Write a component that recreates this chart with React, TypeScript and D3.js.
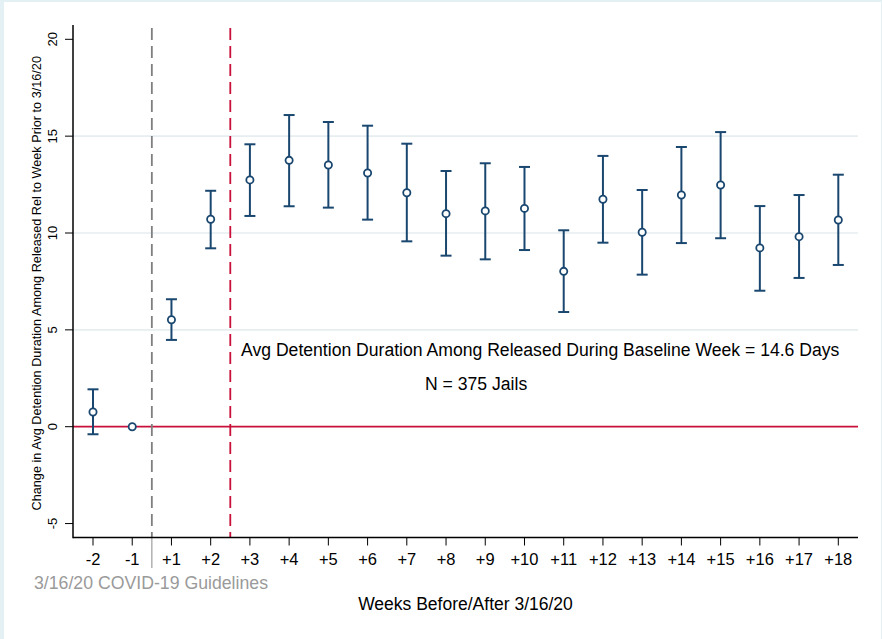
import React from "react";
import * as d3 from "d3";

const weeks = ["-2", "-1", "+1", "+2", "+3", "+4", "+5", "+6", "+7", "+8", "+9", "+10", "+11", "+12", "+13", "+14", "+15", "+16", "+17", "+18"];
const estimate = [0.76, 0, 5.52, 10.71, 12.74, 13.75, 13.51, 13.1, 12.08, 11.0, 11.14, 11.27, 8.02, 11.74, 10.04, 11.96, 12.48, 9.23, 9.81, 10.67];
const upper = [1.93, 0, 6.58, 12.18, 14.58, 16.09, 15.73, 15.54, 14.61, 13.2, 13.6, 13.41, 10.14, 13.98, 12.22, 14.44, 15.21, 11.39, 11.96, 13.01];
const lower = [-0.39, 0, 4.48, 9.21, 10.88, 11.38, 11.31, 10.69, 9.57, 8.83, 8.64, 9.12, 5.92, 9.5, 7.85, 9.48, 9.73, 7.02, 7.68, 8.35];
const yTicks = [-5, 0, 5, 10, 15, 20];
const gridTicks = [5, 10, 15];

const W = 882;
const H = 639;
const NAVY = "#1a476f";
const RED = "#c8103a";
const FONT = "'Liberation Sans', Arial, Helvetica, sans-serif";

export default function App() {
  const x = d3.scaleLinear().domain([0, weeks.length - 1]).range([93, 838.3]);
  const y = d3.scaleLinear().domain([0, 20]).range([426.7, 39.3]);
  const left = 73;
  const right = 858;
  const top = 25;
  const bottom = 537.5;
  const capHalf = 5.5;

  return (
    <svg width={W} height={H} style={{ position: "absolute", left: 0, top: 0, display: "block" }} fontFamily={FONT}>
      <rect x={0} y={0} width={W} height={H} fill="#e3f1f5" />
      <rect x={4} y={2} width={877} height={H - 2} fill="#ffffff" />
      {gridTicks.map((t) => (
        <line key={t} x1={left} x2={right} y1={y(t)} y2={y(t)} stroke="#e6eef0" strokeWidth={1.6} />
      ))}
      <line x1={left} x2={right} y1={y(0)} y2={y(0)} stroke={RED} strokeWidth={1.8} />
      <line x1={x(1.5)} x2={x(1.5)} y1={28} y2={bottom} stroke="#7f7f7f" strokeWidth={1.8} strokeDasharray="12,6" />
      <line x1={x(3.5)} x2={x(3.5)} y1={28} y2={bottom} stroke={RED} strokeWidth={1.8} strokeDasharray="12,6" />
      <line x1={x(1.5)} x2={x(1.5)} y1={bottom} y2={568} stroke="#a6a6a6" strokeWidth={1.3} />
      {weeks.map((w, i) => {
        const cx = x(i);
        const hasBar = upper[i] !== lower[i];
        return (
          <g key={w}>
            {hasBar && (
              <g stroke={NAVY} strokeWidth={2}>
                <line x1={cx} x2={cx} y1={y(upper[i])} y2={y(lower[i])} />
                <line x1={cx - capHalf} x2={cx + capHalf} y1={y(upper[i])} y2={y(upper[i])} />
                <line x1={cx - capHalf} x2={cx + capHalf} y1={y(lower[i])} y2={y(lower[i])} />
              </g>
            )}
            <circle cx={cx} cy={y(estimate[i])} r={3.6} fill="#ffffff" stroke={NAVY} strokeWidth={1.8} />
          </g>
        );
      })}
      <line x1={left} x2={left} y1={top} y2={bottom + 0.8} stroke="#000" strokeWidth={1.5} />
      <line x1={left} x2={right} y1={bottom} y2={bottom} stroke="#000" strokeWidth={1.5} />
      {yTicks.map((t) => (
        <g key={t}>
          <line x1={left - 8} x2={left} y1={y(t)} y2={y(t)} stroke="#000" strokeWidth={1} />
          <text transform={`translate(57,${y(t)}) rotate(-90)`} textAnchor="middle" fontSize={13} fill="#000">
            {t}
          </text>
        </g>
      ))}
      {weeks.map((w, i) => (
        <g key={w}>
          <line x1={x(i)} x2={x(i)} y1={bottom} y2={bottom + 8} stroke="#000" strokeWidth={1} />
          <text x={x(i)} y={565} textAnchor="middle" fontSize={16.5} fill="#000">
            {w}
          </text>
        </g>
      ))}
      <text transform={`translate(41,${(top + bottom) / 2 + 2}) rotate(-90)`} textAnchor="middle" fontSize={12.7} fill="#000">
        Change in Avg Detention Duration Among Released Rel to Week Prior to 3/16/20
      </text>
      <text x={465.5} y={610} textAnchor="middle" fontSize={17.5} fill="#000">
        Weeks Before/After 3/16/20
      </text>
      <text x={34} y={589} fontSize={17.7} fill="#9a9a9a">
        3/16/20 COVID-19 Guidelines
      </text>
      <text x={241} y={356} fontSize={17.6} fill="#000">
        Avg Detention Duration Among Released During Baseline Week = 14.6 Days
      </text>
      <text x={425} y={390} fontSize={17.6} fill="#000">
        N = 375 Jails
      </text>
    </svg>
  );
}
